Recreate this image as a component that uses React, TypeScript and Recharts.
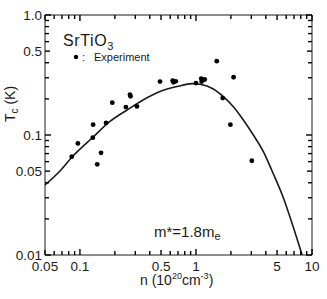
import { ComposedChart, Line, Scatter, XAxis, YAxis } from 'recharts'

// n in 1e20 cm^-3, Tc in K
const expN = [0.085, 0.096, 0.13, 0.129, 0.141, 0.152, 0.168, 0.19, 0.249, 0.27, 0.273, 0.31, 0.49, 0.63, 0.64, 0.67, 1.0, 1.11, 1.12, 1.19, 1.51, 2.11, 1.7, 1.98, 3.03]
const expTc = [0.066, 0.085, 0.122, 0.095, 0.057, 0.071, 0.126, 0.186, 0.171, 0.217, 0.21, 0.173, 0.279, 0.284, 0.275, 0.28, 0.271, 0.295, 0.279, 0.29, 0.412, 0.303, 0.203, 0.122, 0.061]

// fitted curve, m* = 1.8 me
const fitN = [0.05, 0.0673, 0.0855, 0.13, 0.1815, 0.2547, 0.35, 0.49, 0.687, 0.925, 1.084, 1.412, 1.722, 2.1, 2.561, 3.123, 3.81, 4.53, 5.63, 6.87, 8.22]
const fitTc = [0.0383, 0.0501, 0.0656, 0.0962, 0.1296, 0.1616, 0.196, 0.2304, 0.2535, 0.268, 0.2646, 0.2416, 0.2086, 0.1722, 0.1334, 0.1, 0.0726, 0.0501, 0.0304, 0.01728, 0.01]

const xLabels = [0.05, 0.1, 0.5, 1, 5, 10]
const yLabels = [0.01, 0.05, 0.1, 0.5, 1]
const xAll = [0.05, 0.06, 0.07, 0.08, 0.09, 0.1, 0.2, 0.3, 0.4, 0.5, 0.6, 0.7, 0.8, 0.9, 1, 2, 3, 4, 5, 6, 7, 8, 9, 10]
const yAll = [0.01, 0.02, 0.03, 0.04, 0.05, 0.06, 0.07, 0.08, 0.09, 0.1, 0.2, 0.3, 0.4, 0.5, 0.6, 0.7, 0.8, 0.9, 1]
const majors = [0.01, 0.1, 1, 10]
const halves = [0.05, 0.5, 5]

const points = expN.map((n, i) => ({ n, tc: expTc[i] }))
const fit = fitN.map((n, i) => ({ n, tc: fitTc[i] }))

const FONT = '"Liberation Sans", Arial, Helvetica, sans-serif'
const INK = '#1a1a1a'

const tickLen = (v: number) => (majors.includes(v) ? 6 : halves.includes(v) ? 5 : 4)

const fmtY = (v: number) => (v === 1 ? '1.0' : String(v))

// tick marks point into the frame; labelled ones also get their number
const edgeTick = (side: 'top' | 'bottom' | 'left' | 'right') => (props: any) => {
  const v = props.payload?.value ?? 1
  const x = Number(props.x)
  const y = Number(props.y)
  const len = tickLen(v)
  let x2 = x
  let y2 = y
  if (side === 'bottom') y2 = y - len
  if (side === 'top') y2 = y + len
  if (side === 'left') x2 = x + len
  if (side === 'right') x2 = x - len
  return (
    <g>
      <path d={`M${x},${y}L${x2},${y2}`} stroke="#000" strokeWidth={1.4} fill="none" />
      {side === 'bottom' && xLabels.includes(v) && (
        <text x={x} y={y + 15.5} textAnchor="middle" fontSize={13.5} fill={INK} fontFamily={FONT}>{v}</text>
      )}
      {side === 'left' && yLabels.includes(v) && (
        <text x={x - 3} y={y + 4.5} textAnchor="end" fontSize={13.5} fill={INK} fontFamily={FONT}>{fmtY(v)}</text>
      )}
    </g>
  )
}

export default function App() {
  return (
    <div style={{ position: 'absolute', left: 0, top: 0, width: 327, height: 299, background: '#fff' }}>
      <ComposedChart width={327} height={299} margin={{ top: 14, right: 14, left: 0, bottom: 0 }}>
        <XAxis xAxisId="x" dataKey="n" type="number" scale="log" domain={[0.05, 10]} allowDataOverflow
          ticks={xAll} interval={0} tickLine={false} tickSize={0} tickMargin={0} height={44}
          axisLine={{ stroke: INK }} tick={edgeTick('bottom')} />
        <XAxis xAxisId="xt" dataKey="n" type="number" scale="log" domain={[0.05, 10]} allowDataOverflow
          orientation="top" ticks={xAll} interval={0} tickLine={false} tickSize={0} tickMargin={0} height={1}
          axisLine={{ stroke: INK }} tick={edgeTick('top')} />
        <YAxis yAxisId="y" dataKey="tc" type="number" scale="log" domain={[0.01, 1]} allowDataOverflow
          ticks={yAll} interval={0} tickLine={false} tickSize={0} tickMargin={0} width={45}
          axisLine={{ stroke: INK }} tick={edgeTick('left')} />
        <YAxis yAxisId="yr" dataKey="tc" type="number" scale="log" domain={[0.01, 1]} allowDataOverflow
          orientation="right" ticks={yAll} interval={0} tickLine={false} tickSize={0} tickMargin={0} width={1}
          axisLine={{ stroke: INK }} tick={edgeTick('right')} />
        <Line xAxisId="x" yAxisId="y" data={fit} dataKey="tc" type="monotone" stroke={INK} strokeWidth={1.6}
          dot={false} isAnimationActive={false} />
        <Scatter xAxisId="x" yAxisId="y" data={points} dataKey="tc" fill="#000" isAnimationActive={false}
          shape={(p: any) => <circle cx={p.cx} cy={p.cy} r={2.4} fill="#000" />} />
      </ComposedChart>
      <svg width={327} height={299} style={{ position: 'absolute', left: 0, top: 0, pointerEvents: 'none' }}
        fontFamily={FONT} fill={INK}>
        <text x={63} y={46} fontSize={16} letterSpacing={0.6}>
          SrTiO<tspan fontSize={11} dy={3.5}>3</tspan>
        </text>
        <circle cx={76} cy={57} r={2.2} fill="#000" />
        <text x={82} y={61} fontSize={11}>:</text>
        <text x={94} y={61} fontSize={11}>Experiment</text>
        <text x={154} y={237} fontSize={15}>
          m*=1.8m<tspan fontSize={11} dy={3}>e</tspan>
        </text>
        <text x={15} y={104} fontSize={14} textAnchor="middle" transform="rotate(-90 15 104)">
          T<tspan fontSize={10} dy={3}>c</tspan><tspan dy={-3}> (K)</tspan>
        </text>
        <text x={140} y={285} fontSize={14}>
          n (10<tspan fontSize={9} dy={-6}>20</tspan><tspan dy={6}>cm</tspan><tspan fontSize={9} dy={-6}>-3</tspan><tspan dy={6}>)</tspan>
        </text>
      </svg>
    </div>
  )
}
